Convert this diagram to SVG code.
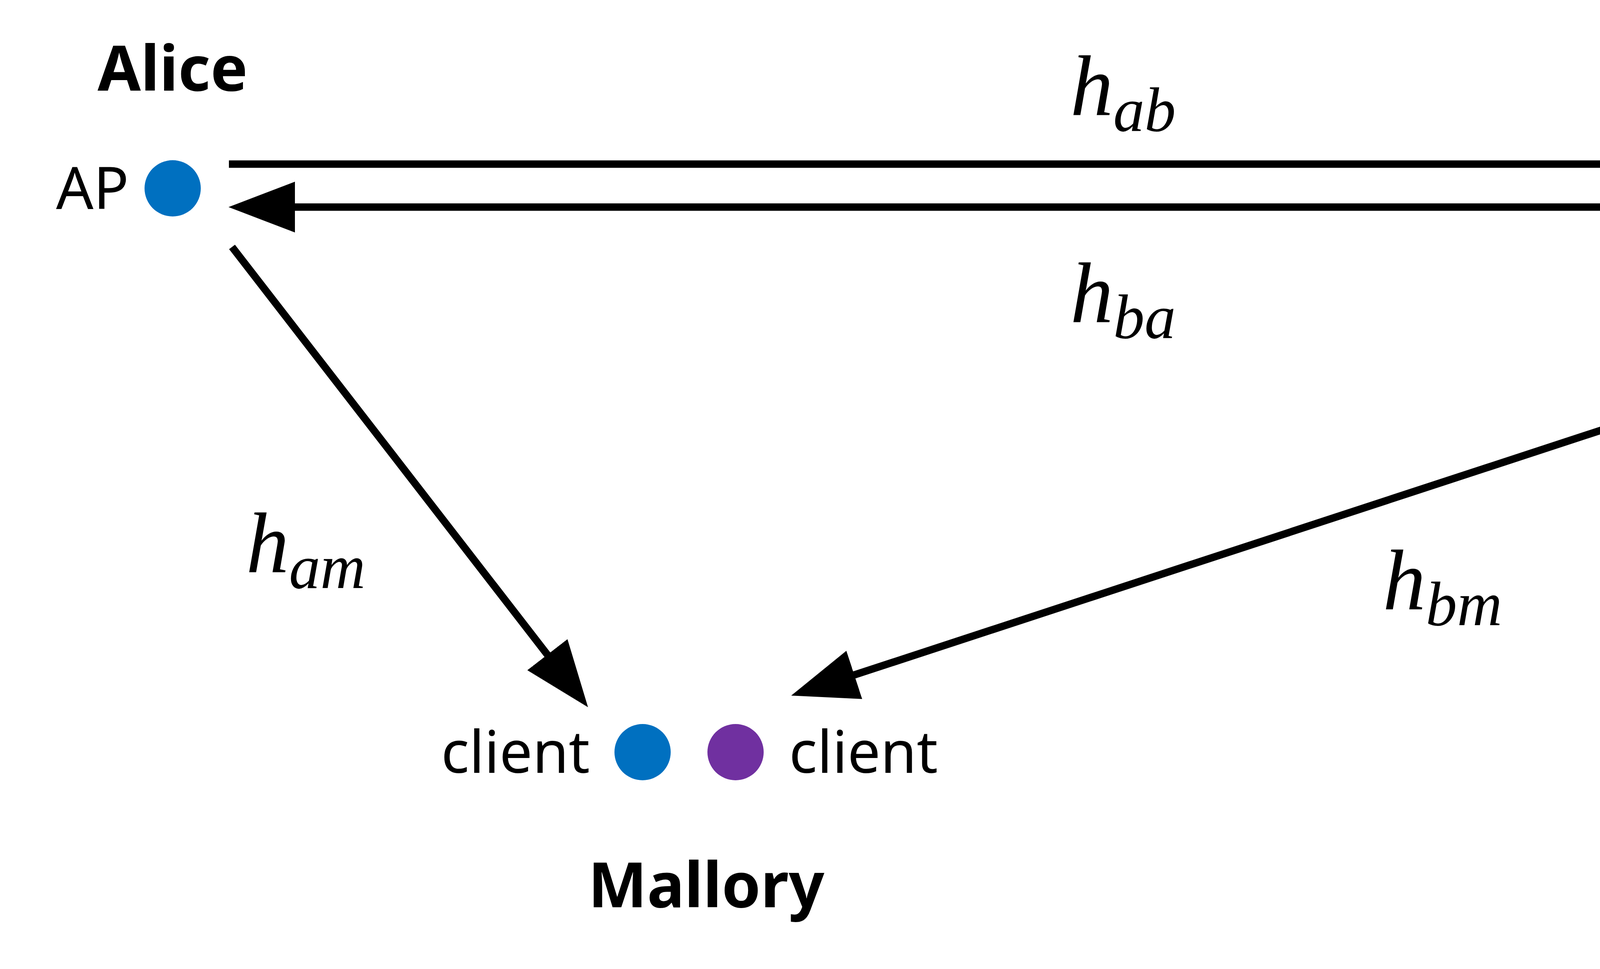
<svg xmlns="http://www.w3.org/2000/svg" width="5930" height="2480" viewBox="0 0 5930 2480">
<style>
.lbl{font-family:"Noto Sans","Liberation Sans",sans-serif;font-size:150px;fill:#000}
.ttl{font-family:"Noto Sans","Liberation Sans",sans-serif;font-size:160px;font-weight:bold;fill:#000}
.m{font-family:"Liberation Serif","DejaVu Serif",serif;font-style:italic;font-size:220px;fill:#000}
.s{font-size:160px}
.ln{stroke:#000;stroke-width:19;fill:none;marker-end:url(#ah)}
.b{fill:#0070C0}.p{fill:#7030A0}
</style>
<defs>
<marker id="ah" markerUnits="userSpaceOnUse" markerWidth="180" markerHeight="140" refX="60" refY="65" orient="auto" viewBox="0 0 180 130">
<path d="M0,0 L170,65 L0,130 Z" fill="#000"/>
</marker>
</defs>
<g id="alice">
<text class="ttl" x="442" y="232" text-anchor="middle">Alice</text>
<text class="lbl" x="330" y="535" text-anchor="end">AP</text>
<circle class="b" cx="442" cy="482" r="72"/>
</g>
<g id="bob">
<text class="ttl" x="5314" y="232" text-anchor="middle">Bob</text>
<circle class="b" cx="5246" cy="482" r="72"/>
<text class="lbl" x="5385" y="535">client</text>
<circle class="p" cx="5246" cy="719" r="72"/>
<text class="lbl" x="5395" y="772">AP</text>
</g>
<g id="mallory">
<circle class="b" cx="1645" cy="1925" r="72"/>
<text class="lbl" x="1510" y="1978" text-anchor="end">client</text>
<circle class="p" cx="1883" cy="1925" r="72"/>
<text class="lbl" x="2020" y="1978">client</text>
<text class="ttl" x="1808" y="2322" text-anchor="middle">Mallory</text>
</g>
<g id="connectors">
<line class="ln" x1="586" y1="420" x2="4985" y2="420"/>
<line class="ln" x1="5090" y1="530" x2="695" y2="530"/>
<line class="ln" x1="594" y1="632" x2="1438" y2="1723"/>
<line class="ln" x1="5094" y1="775" x2="2130" y2="1746"/>
</g>
<g id="labels">
<text class="m" x="2740" y="295">h<tspan class="s" dy="40">ab</tspan></text>
<text class="m" x="2740" y="825">h<tspan class="s" dy="40">ba</tspan></text>
<text class="m" x="630" y="1465">h<tspan class="s" dy="40">am</tspan></text>
<text class="m" x="3540" y="1560">h<tspan class="s" dy="40">bm</tspan></text>
</g>
</svg>
